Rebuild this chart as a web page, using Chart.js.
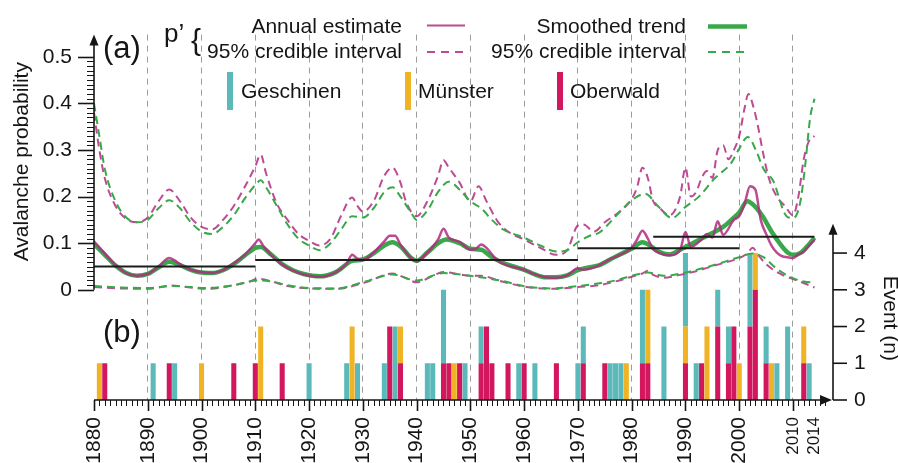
<!DOCTYPE html>
<html>
<head>
<meta charset="utf-8">
<title>Avalanche probability and events</title>
<script src="https://cdn.jsdelivr.net/npm/chart.js@4.4.1/dist/chart.umd.min.js"></script>
<style>
  html, body { margin: 0; padding: 0; background: #fff; }
  #wrap { position: relative; width: 898px; height: 463px; }
</style>
</head>
<body>
<div id="wrap"><canvas id="avalancheChart"></canvas></div>
<script>
// ---- annual estimate p' and its 95% credible interval [year, probability]
const estimateSeries = [[1880,0.104],[1882,0.078],[1884,0.053],[1886,0.036],[1888,0.030],[1890,0.034],[1892,0.050],[1894,0.068],[1895,0.063],[1896,0.055],[1898,0.043],[1900,0.038],[1902,0.036],[1904,0.042],[1906,0.057],[1908,0.075],[1910,0.100],[1910.6,0.108],[1911.5,0.094],[1913,0.074],[1915,0.054],[1917,0.041],[1919,0.033],[1922,0.028],[1925,0.038],[1927,0.056],[1928,0.075],[1929,0.067],[1930,0.064],[1932,0.080],[1934,0.104],[1935,0.116],[1936,0.116],[1937,0.097],[1939,0.068],[1940,0.061],[1942,0.080],[1944,0.108],[1945,0.131],[1946,0.112],[1948,0.103],[1950,0.086],[1951,0.088],[1952,0.097],[1953,0.090],[1955,0.063],[1957,0.052],[1960,0.043],[1962,0.033],[1964,0.027],[1966,0.026],[1968,0.031],[1970,0.046],[1971,0.043],[1974,0.053],[1976,0.066],[1978,0.076],[1980,0.090],[1981,0.108],[1982,0.127],[1983,0.110],[1984,0.087],[1985,0.080],[1987,0.074],[1989,0.085],[1990,0.124],[1991,0.092],[1993,0.108],[1994,0.120],[1995,0.112],[1996,0.147],[1997,0.118],[1999,0.150],[2000,0.158],[2001,0.185],[2002,0.222],[2003,0.215],[2004,0.150],[2005,0.120],[2006,0.095],[2007,0.080],[2008,0.072],[2009,0.070],[2010,0.068],[2011,0.076],[2012,0.082],[2013,0.095],[2014,0.107]];
const estimateUpper = [[1880,0.38],[1881,0.30],[1882,0.24],[1884,0.18],[1886,0.152],[1888,0.145],[1890,0.155],[1892,0.19],[1894,0.215],[1896,0.19],[1898,0.155],[1900,0.135],[1902,0.13],[1904,0.15],[1906,0.18],[1908,0.22],[1910,0.265],[1911,0.29],[1912,0.25],[1914,0.185],[1916,0.15],[1918,0.12],[1920,0.105],[1922,0.095],[1924,0.11],[1926,0.16],[1928,0.198],[1929,0.18],[1930,0.168],[1932,0.19],[1934,0.245],[1935.5,0.262],[1937,0.23],[1938,0.19],[1940,0.158],[1942,0.19],[1944,0.245],[1945,0.278],[1946,0.262],[1948,0.23],[1950,0.19],[1951.5,0.222],[1953,0.19],[1955,0.148],[1957,0.125],[1960,0.108],[1963,0.09],[1966,0.075],[1968,0.085],[1970,0.138],[1971,0.14],[1973,0.125],[1975,0.145],[1978,0.17],[1980,0.195],[1981,0.22],[1982,0.262],[1983,0.24],[1984,0.19],[1985,0.178],[1987,0.16],[1989,0.2],[1990,0.262],[1991,0.2],[1992,0.21],[1993,0.24],[1994,0.255],[1995,0.24],[1996,0.3],[1997,0.31],[1998,0.28],[1999,0.30],[2000,0.33],[2001,0.39],[2001.7,0.42],[2002.7,0.39],[2003.5,0.35],[2004.5,0.29],[2005.5,0.24],[2007,0.2],[2008.5,0.18],[2010,0.16],[2011,0.2],[2012,0.28],[2013,0.32],[2014,0.33]];
const estimateLower = [[1880,0.006],[1885,0.003],[1890,0.002],[1894.5,0.009],[1898,0.005],[1901,0.002],[1906,0.01],[1909,0.018],[1910.5,0.024],[1913,0.018],[1916,0.008],[1920,0.003],[1925,0.002],[1930.5,0.016],[1935.5,0.035],[1938,0.025],[1940,0.016],[1943,0.03],[1945,0.038],[1948,0.033],[1950,0.03],[1952,0.03],[1955.5,0.019],[1960.5,0.006],[1965.5,0.002],[1970,0.006],[1974,0.01],[1977,0.018],[1980,0.028],[1982,0.035],[1983,0.041],[1984,0.032],[1986,0.026],[1989,0.032],[1992,0.04],[1996,0.054],[2000,0.068],[2001.5,0.078],[2002.5,0.09],[2003.5,0.075],[2005,0.055],[2007.5,0.035],[2011,0.019],[2014,0.005]];

// ---- smoothed trend and its 95% credible interval
const trendSeries = [[1880,0.098],[1882,0.075],[1884,0.052],[1886,0.036],[1888,0.030],[1890,0.034],[1892,0.048],[1894,0.060],[1896,0.053],[1898,0.043],[1900,0.037],[1902,0.036],[1904,0.042],[1906,0.055],[1908,0.073],[1910,0.090],[1911,0.092],[1913,0.075],[1915,0.055],[1917,0.042],[1919,0.034],[1922,0.029],[1925,0.038],[1928,0.062],[1930,0.065],[1932,0.078],[1934,0.095],[1935.5,0.102],[1937,0.093],[1939,0.068],[1940,0.062],[1942,0.080],[1944,0.100],[1945.5,0.108],[1948,0.100],[1950,0.088],[1952,0.086],[1954,0.070],[1956,0.058],[1958,0.050],[1960,0.043],[1962,0.033],[1964,0.027],[1966,0.027],[1968,0.031],[1970,0.042],[1972,0.048],[1974,0.053],[1976,0.065],[1978,0.077],[1980,0.088],[1982,0.102],[1983,0.098],[1985,0.082],[1987,0.076],[1989,0.086],[1991,0.098],[1993,0.110],[1995,0.122],[1997,0.135],[1999,0.155],[2000,0.166],[2001.5,0.190],[2003,0.178],[2004.5,0.155],[2006,0.125],[2007.5,0.100],[2009,0.080],[2010,0.075],[2011.5,0.080],[2013,0.098],[2014,0.112]];
const trendUpper = [[1880,0.40],[1881,0.33],[1882,0.26],[1884,0.19],[1886,0.155],[1888,0.145],[1890,0.15],[1892,0.175],[1894,0.192],[1896,0.175],[1898,0.145],[1900,0.125],[1902,0.12],[1904,0.135],[1906,0.16],[1908,0.195],[1910,0.225],[1911,0.235],[1912,0.22],[1914,0.18],[1916,0.14],[1918,0.11],[1920,0.095],[1922,0.085],[1924,0.1],[1926,0.13],[1928,0.158],[1930,0.155],[1932,0.175],[1934,0.21],[1935.5,0.22],[1937,0.2],[1939,0.165],[1940,0.15],[1942,0.17],[1944,0.21],[1946,0.232],[1948,0.215],[1950,0.19],[1952,0.175],[1954,0.15],[1956,0.13],[1958,0.12],[1960,0.112],[1963,0.095],[1966,0.082],[1968,0.085],[1970,0.102],[1972,0.115],[1974,0.123],[1976,0.145],[1978,0.17],[1980,0.192],[1982.5,0.206],[1985,0.178],[1987.5,0.154],[1990,0.178],[1992.5,0.2],[1995.5,0.24],[1998.5,0.272],[2000,0.303],[2001.6,0.328],[2003.2,0.297],[2004.5,0.26],[2006.3,0.234],[2008.8,0.158],[2010,0.154],[2011.3,0.185],[2012.2,0.26],[2013.2,0.37],[2014,0.41]];
const trendLower = [[1880,0.008],[1885,0.005],[1890,0.004],[1894.5,0.008],[1901,0.004],[1906,0.01],[1910.5,0.02],[1913,0.018],[1916,0.01],[1920,0.004],[1925,0.003],[1930.5,0.018],[1935.5,0.033],[1940,0.02],[1945,0.036],[1950,0.03],[1955.5,0.02],[1960.5,0.007],[1965.5,0.003],[1970,0.008],[1974,0.014],[1977,0.02],[1980,0.03],[1983,0.037],[1986,0.03],[1990,0.037],[1995,0.052],[2000,0.07],[2002.5,0.078],[2004.5,0.07],[2007,0.045],[2010,0.025],[2012,0.018],[2014,0.015]];

// ---- period means (black steps)
const periodStart = [1880, 1910, 1970, 1984];
const periodEnd   = [1910, 1970, 2000, 2014];
const periodMean  = [0.050, 0.064, 0.089, 0.114];

// ---- recorded avalanche events per winter and village
const eventYears = [1881,1882,1891,1894,1895,1900,1906,1910,1911,1915,1920,1927,1928,1929,1934,1935,1936,1937,1942,1943,1945,1946,1947,1948,1949,1952,1953,1954,1957,1959,1960,1962,1966,1970,1971,1975,1976,1977,1978,1979,1982,1983,1986,1990,1992,1993,1994,1996,1998,1999,2000,2002,2003,2005,2006,2007,2009,2012,2013];
const geschinen  = [0,0,1,0,1, 0,0,0,0,0, 1,1,0,1,1, 0,2,0,1,1, 2,0,0,0,1, 1,0,0,0,1, 0,1,0,1,1, 0,1,1,1,0, 2,0,2,2,1, 0,0,1,1,0, 0,2,0,1,0, 1,2,0,1];
const muenster   = [1,0,0,0,0, 1,0,0,2,0, 0,0,2,0,0, 0,0,1,0,0, 0,0,1,0,0, 0,0,0,0,0, 0,0,0,0,0, 0,0,0,0,1, 0,2,0,1,0, 0,2,0,0,0, 1,0,1,0,1, 0,0,1,0];
const oberwald   = [0,1,0,1,0, 0,1,1,0,1, 0,0,0,0,0, 2,0,1,0,0, 1,1,0,1,0, 1,2,1,1,0, 1,0,1,0,1, 1,0,0,0,0, 1,1,0,1,0, 1,0,2,1,2, 0,2,3,1,0, 0,0,1,0];

// ---- axis ticks
const yearTicks  = [1880,1890,1900,1910,1920,1930,1940,1950,1960,1970,1980,1990,2000,2010,2014];
const probTicks  = [0, 0.1, 0.2, 0.3, 0.4, 0.5];
const eventTicks = [0, 1, 2, 3, 4];

const INK = '#151515';
const EST = 'rgba(176,44,128,0.85)';
const TREND = '#38a84a';
const C_GESCH = '#5cb9b9';
const C_MUEN = '#f0b325';
const C_OBER = '#d3175f';
const FONT = '"Liberation Sans", Arial, sans-serif';

const toPoints = s => s.map(p => ({ x: p[0], y: p[1] }));
const barPoints = vals => eventYears.map((yr, i) => ({ x: yr, y: vals[i] }));

function curve(label, series, color, width, dash, order) {
  return {
    type: 'line', label, data: toPoints(series), yAxisID: 'y',
    borderColor: color, borderWidth: width, borderDash: dash,
    pointRadius: 0, fill: false, cubicInterpolationMode: 'monotone', order
  };
}

function bars(label, vals, color) {
  return {
    type: 'bar', label, data: barPoints(vals), yAxisID: 'y2',
    backgroundColor: color, borderWidth: 0, grouped: false,
    barPercentage: 0.94, categoryPercentage: 1, order: 10
  };
}

const meanSets = periodMean.map((m, i) => ({
  type: 'line', label: 'mean ' + periodStart[i], yAxisID: 'y',
  data: [{ x: periodStart[i], y: m }, { x: periodEnd[i], y: m }],
  borderColor: '#1c1c1c', borderWidth: 2, pointRadius: 0, fill: false, order: 1
}));

// axis lines with arrows, minor ticks, panel labels and legends
const decor = {
  id: 'decor',
  afterDraw(chart) {
    const { ctx, chartArea: a } = chart;
    const { x, y, y2 } = chart.scales;
    ctx.save();
    ctx.strokeStyle = INK;
    ctx.fillStyle = INK;
    const seg = (x1, y1, x2, yb, w) => {
      ctx.lineWidth = w; ctx.beginPath(); ctx.moveTo(x1, y1); ctx.lineTo(x2, yb); ctx.stroke();
    };
    const head = (pts) => {
      ctx.beginPath(); ctx.moveTo(pts[0], pts[1]); ctx.lineTo(pts[2], pts[3]); ctx.lineTo(pts[4], pts[5]); ctx.closePath(); ctx.fill();
    };

    // probability axis
    const p0 = y.getPixelForValue(0);
    seg(a.left, p0, a.left, a.top + 8, 1.6);
    head([a.left, a.top, a.left - 4.5, a.top + 11, a.left + 4.5, a.top + 11]);
    for (let i = 0; i <= 50; i++) {
      const py = Math.round(y.getPixelForValue(i / 100)) + 0.5;
      if (i % 10 === 0) seg(a.left - 16, py, a.left, py, 1.6);
      else seg(a.left - 7, py, a.left, py, 1);
    }

    // year axis
    seg(a.left, a.bottom, a.right - 8, a.bottom, 1.6);
    head([a.right - 1, a.bottom, a.right - 13, a.bottom - 5, a.right - 13, a.bottom + 5]);
    for (let yr = 1880; yr <= 2016; yr++) {
      const px = Math.round(x.getPixelForValue(yr)) + 0.5;
      if (yr % 10 === 0) seg(px, a.bottom, px, a.bottom + 11, 1.6);
      else seg(px, a.bottom, px, a.bottom + 6, 1);
    }

    // event axis
    const eTop = y2.getPixelForValue(4.8);
    seg(a.right, a.bottom, a.right, eTop + 8, 1.6);
    head([a.right, eTop, a.right - 4.5, eTop + 11, a.right + 4.5, eTop + 11]);
    eventTicks.forEach(n => {
      const py = y2.getPixelForValue(n);
      seg(a.right, py, a.right + 14, py, 1.6);
    });

    // axis titles
    ctx.font = '21px ' + FONT;
    ctx.textBaseline = 'alphabetic';
    ctx.textAlign = 'center';
    ctx.save();
    ctx.translate(28, (p0 + y.getPixelForValue(0.55)) / 2);
    ctx.rotate(-Math.PI / 2);
    ctx.fillText('Avalanche probability', 0, 0);
    ctx.restore();
    ctx.save();
    ctx.translate(884, (y2.getPixelForValue(0) + y2.getPixelForValue(4.5)) / 2 + 1);
    ctx.rotate(Math.PI / 2);
    ctx.fillText('Event (n)', 0, 0);
    ctx.restore();

    // panel labels
    ctx.textAlign = 'left';
    ctx.font = '31px ' + FONT;
    ctx.fillText('(a)', a.left + 9, 58);
    ctx.fillText('(b)', a.left + 9, 342);
    ctx.font = '26px ' + FONT;
    ctx.fillText('p\u2019', 164, 42);
    ctx.font = '30px ' + FONT;
    ctx.fillText('{', 191, 50);

    // line legend
    ctx.font = '21px ' + FONT;
    ctx.textAlign = 'right';
    ctx.fillText('Annual estimate', 402, 33);
    ctx.fillText('95% credible interval', 402, 58);
    ctx.fillText('Smoothed trend', 686, 33);
    ctx.fillText('95% credible interval', 686, 58);
    const sample = (x1, x2, yy, color, w, dash) => {
      ctx.save(); ctx.strokeStyle = color; ctx.setLineDash(dash); seg(x1, yy, x2, yy, w); ctx.restore();
    };
    sample(427, 465, 25.5, EST, 2.2, []);
    sample(427, 465, 52, EST, 2, [8, 6]);
    sample(708, 747, 26.5, TREND, 4.5, []);
    sample(708, 747, 52, TREND, 2, [8, 6]);

    // village legend
    ctx.textAlign = 'left';
    [[227, C_GESCH, 'Geschinen', 241], [405, C_MUEN, 'M\u00fcnster', 418], [557, C_OBER, 'Oberwald', 570]].forEach(k => {
      ctx.fillStyle = k[1];
      ctx.fillRect(k[0], 72, 6, 38);
      ctx.fillStyle = INK;
      ctx.fillText(k[2], k[3], 98);
    });
    ctx.restore();
  }
};

Chart.defaults.font.family = FONT;
Chart.defaults.color = INK;

new Chart(document.getElementById('avalancheChart'), {
  type: 'bar',
  data: {
    datasets: [
      bars('Oberwald', oberwald, C_OBER),
      bars('M\u00fcnster', muenster, C_MUEN),
      bars('Geschinen', geschinen, C_GESCH),
      curve('95% credible interval (estimate, upper)', estimateUpper, EST, 2, [8, 5], 5),
      curve('95% credible interval (estimate, lower)', estimateLower, EST, 2, [8, 5], 5),
      curve('95% credible interval (trend, upper)', trendUpper, TREND, 2, [8, 5], 4),
      curve('95% credible interval (trend, lower)', trendLower, TREND, 2, [8, 5], 4),
      curve('Smoothed trend', trendSeries, TREND, 4.5, [], 3),
      curve('Annual estimate', estimateSeries, EST, 2.5, [], 2),
      ...meanSets
    ]
  },
  options: {
    responsive: true,
    maintainAspectRatio: false,
    animation: false,
    layout: { padding: { top: 22, left: 0, right: 0, bottom: 0 } },
    plugins: { legend: { display: false }, tooltip: { enabled: false } },
    scales: {
      x: {
        type: 'linear', min: 1880, max: 2017.44, offset: false,
        afterBuildTicks: s => { s.ticks = yearTicks.map(v => ({ value: v })); },
        afterFit: s => { s.height = 63; },
        grid: {
          offset: false,
          drawTicks: false,
          lineWidth: 1,
          color: c => (c.tick && c.tick.value % 10 === 0 && c.tick.value > 1880) ? '#9c9c9c' : 'rgba(0,0,0,0)'
        },
        border: { display: false, dash: [6, 5] },
        ticks: {
          autoSkip: false, minRotation: 90, maxRotation: 90, padding: 17,
          font: c => ({ size: (c.tick && c.tick.value >= 2010) ? 17 : 21 }),
          callback: v => String(v)
        }
      },
      y: {
        type: 'linear', position: 'left', min: -0.2365, max: 0.5477,
        afterBuildTicks: s => { s.ticks = probTicks.map(v => ({ value: v })); },
        afterFit: s => { s.width = 94; },
        grid: { display: false, drawTicks: false },
        border: { display: false },
        ticks: { padding: 22, font: { size: 21 }, callback: v => v === 0 ? '0' : v.toFixed(1) }
      },
      y2: {
        type: 'linear', position: 'right', min: 0, max: 9.947, stacked: true,
        afterBuildTicks: s => { s.ticks = eventTicks.map(v => ({ value: v })); },
        afterFit: s => { s.width = 65; },
        grid: { display: false, drawTicks: false },
        border: { display: false },
        ticks: { padding: 21, font: { size: 21 }, callback: v => String(v) }
      }
    }
  },
  plugins: [decor]
});
</script>
</body>
</html>
